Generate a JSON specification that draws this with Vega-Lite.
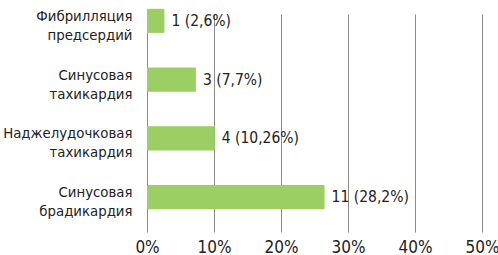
{
  "$schema": "https://vega.github.io/schema/vega-lite/v6.json",
  "width": 335,
  "height": 232,
  "autosize": {"type": "none"},
  "padding": {"left": 147, "top": 0, "right": 16, "bottom": 23},
  "background": "white",
  "config": {"view": {"stroke": null}, "font": "DejaVu Sans Condensed"},
  "data": {
    "values": [
      {"cat": "Фибрилляция предсердий", "value": 2.6, "label": "1 (2,6%)"},
      {"cat": "Синусовая тахикардия", "value": 7.3, "label": "3 (7,7%)"},
      {"cat": "Наджелудочковая тахикардия", "value": 10.1, "label": "4 (10,26%)"},
      {"cat": "Синусовая брадикардия", "value": 26.5, "label": "11 (28,2%)"}
    ]
  },
  "encoding": {
    "y": {
      "field": "cat",
      "type": "nominal",
      "sort": null,
      "scale": {"range": [0, 218], "paddingInner": 0.59, "paddingOuter": 0.15},
      "axis": {
        "title": null,
        "ticks": false,
        "domain": false,
        "labelPadding": 15,
        "labelFontSize": 14.8,
        "labelLineHeight": 19,
        "labelBaseline": "alphabetic",
        "labelColor": "#222222",
        "labelExpr": "split(datum.value, ' ')",
        "labelLimit": 200
      }
    }
  },
  "layer": [
    {
      "mark": {"type": "bar", "color": "#9bcf63"},
      "encoding": {
        "x": {
          "field": "value",
          "type": "quantitative",
          "scale": {"domain": [0, 50]},
          "axis": {
            "title": null,
            "values": [0, 10, 20, 30, 40, 50],
            "labelExpr": "datum.value + '%'",
            "grid": true,
            "gridColor": "#8a8a8a",
            "gridWidth": 1,
            "domain": false,
            "ticks": false,
            "labelPadding": 20,
            "labelBaseline": "alphabetic",
            "labelFontSize": 17,
            "labelColor": "#222222",
            "labelFlush": false
          }
        }
      }
    },
    {
      "mark": {"type": "text", "align": "left", "dx": 7, "fontSize": 15.5, "color": "#222222"},
      "encoding": {
        "x": {"field": "value", "type": "quantitative"},
        "text": {"field": "label"}
      }
    }
  ]
}
